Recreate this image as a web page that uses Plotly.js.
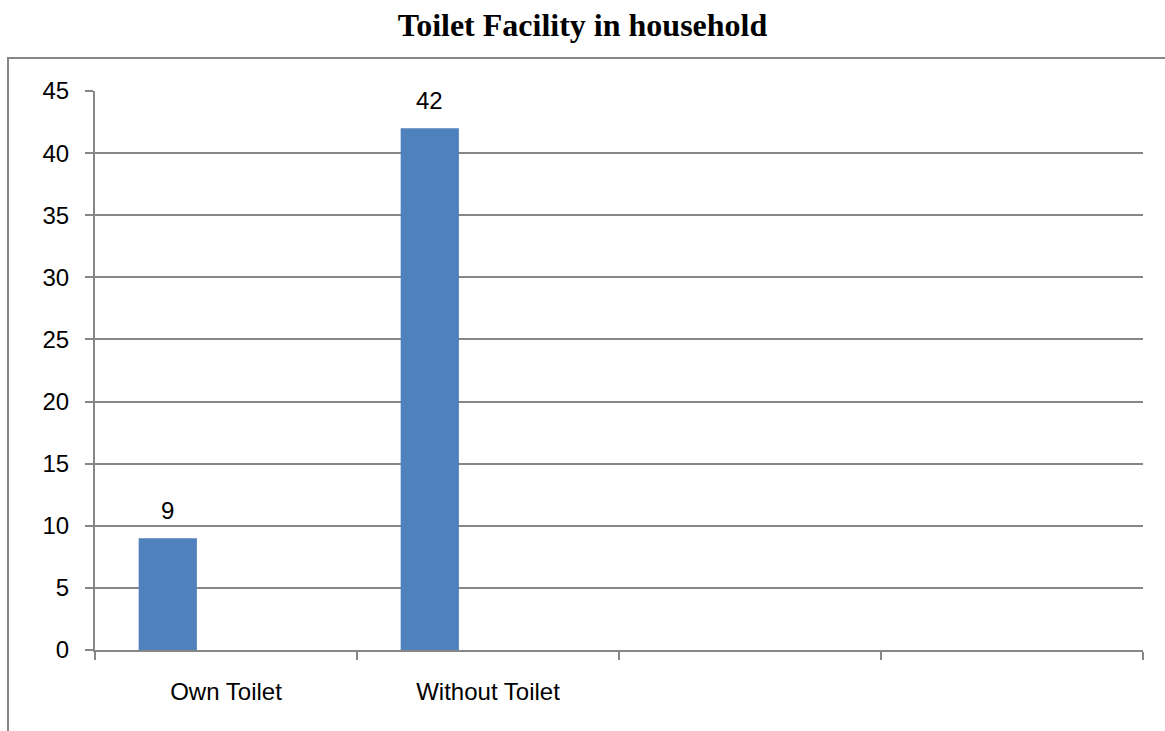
<!DOCTYPE html>
<html>
<head>
<meta charset="utf-8">
<script src="https://cdn.plot.ly/plotly-3.0.1.min.js"></script>
<style>html,body{margin:0;padding:0;background:#fff;}#chart{width:1165px;height:731px;}</style>
</head>
<body>
<div id="chart"></div>
<script>
const categories = ["Own Toilet", "Without Toilet", "", ""];
const values = [9, 42, null, null];
const chartTitle = "Toilet Facility in household";
const yTicks = [0, 5, 10, 15, 20, 25, 30, 35, 40, 45];

const xPos = categories.map((c, i) => i);
const barWidth = 1 / 4.5;
const barOffset = -1.5 * barWidth;
const grey = "#868686";
const fontFam = "Liberation Sans, Arial, sans-serif";

const annotations = values
  .map((v, i) => v === null ? null : {
    x: i + barOffset + barWidth / 2, y: v, xref: "x", yref: "y",
    text: String(v), showarrow: false, yanchor: "bottom", yshift: 12,
    font: {family: fontFam, size: 24, color: "#000"}
  })
  .filter(a => a !== null);

const trace = {
  type: "bar",
  x: xPos,
  y: values,
  width: barWidth,
  offset: barOffset,
  marker: {color: "#4F81BD", line: {width: 0}},
  hoverinfo: "skip"
};

const layout = {
  width: 1165, height: 731,
  margin: {l: 95, r: 22, t: 91, b: 81},
  paper_bgcolor: "#fff", plot_bgcolor: "#fff",
  showlegend: false,
  font: {family: fontFam, size: 24, color: "#000"},
  title: {
    text: "<b>" + chartTitle + "</b>",
    font: {family: "Liberation Serif, Times New Roman, serif", size: 32, color: "#000"},
    x: 0.5, xref: "container", xanchor: "center",
    y: 1 - 25 / 731, yref: "container", yanchor: "middle"
  },
  xaxis: {
    type: "linear",
    range: [-0.5, categories.length - 0.5],
    tickmode: "array",
    tickvals: xPos,
    ticktext: categories,
    ticks: "",
    showgrid: false,
    zeroline: false,
    showline: true, linecolor: grey, linewidth: 2,
    ticklabelstandoff: 19,
    tickfont: {size: 24, color: "#000"},
    minor: {
      tickmode: "array",
      tickvals: categories.map((c, i) => i - 0.5).concat([categories.length - 0.5]),
      ticks: "outside", ticklen: 8, tickwidth: 2, tickcolor: grey, showgrid: false
    },
    fixedrange: true
  },
  yaxis: {
    range: [0, 45],
    tickmode: "array",
    tickvals: yTicks,
    ticks: "outside", ticklen: 8, tickwidth: 2, tickcolor: grey,
    showgrid: true, gridcolor: grey, gridwidth: 2,
    zeroline: false,
    showline: true, linecolor: grey, linewidth: 2,
    ticklabelstandoff: 11,
    tickfont: {size: 24, color: "#000"},
    fixedrange: true
  },
  shapes: [{
    type: "rect", xref: "paper", yref: "paper",
    x0: (8 - 95) / 1048, x1: (1185 - 95) / 1048,
    y0: (650 - 760) / 559, y1: (650 - 58) / 559,
    line: {color: grey, width: 2}, fillcolor: "rgba(0,0,0,0)", layer: "below"
  }],
  annotations: annotations
};

Plotly.newPlot("chart", [trace], layout, {displayModeBar: false, staticPlot: true});
</script>
</body>
</html>
